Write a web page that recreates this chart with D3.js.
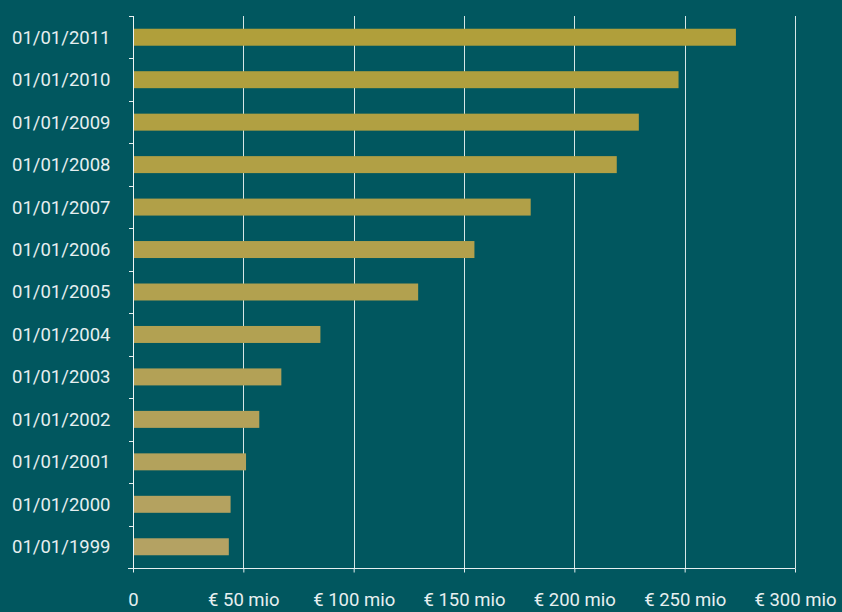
<!DOCTYPE html>
<html lang="en">
	<head>
		<meta charset="utf-8">
		<title>Value by year</title>
		<script type="text/javascript" src="https://cdn.jsdelivr.net/npm/d3@7"></script>
		<style type="text/css">
		html, body {
			margin: 0;
			padding: 0;
			background-color: #01575f;
		}
		text {
			font-family: Roboto, sans-serif;
			font-size: 18.5px;
			fill: #e6eff0;
		}
		</style>
	</head>
	<body>
		<script type="text/javascript">

			//Dates shown on the left, top to bottom
			var dates = ["01/01/2011", "01/01/2010", "01/01/2009", "01/01/2008", "01/01/2007",
				"01/01/2006", "01/01/2005", "01/01/2004", "01/01/2003", "01/01/2002",
				"01/01/2001", "01/01/2000", "01/01/1999"];

			//Values in million euro
			var values = [273, 247, 229, 219, 180, 154.5, 129, 84.7, 67, 57, 51, 44, 43.2];

			//Tick values and labels for the x-axis
			var xTicks = [0, 50, 100, 150, 200, 250, 300];
			var xTickLabels = ["0", "€ 50 mio", "€ 100 mio", "€ 150 mio", "€ 200 mio", "€ 250 mio", "€ 300 mio"];

			var w = 842;
			var h = 612;

			//plot area edges
			var padL = 133;
			var padR = 795;
			var padT = 16;
			var padB = 568;

			var dataset = dates.map(function(d, i){
				return {date: d, value: values[i], idx: i};
			});

			var xScale = d3.scaleLinear()
							.domain([0, 300])
							.range([padL, padR]);

			var yScale = d3.scaleBand()
							.domain(dates)
							.range([padT, padB])
							.padding(0);

			//bars get a bit paler towards the bottom
			var colorScale = d3.scaleLinear()
							.domain([0, dates.length - 1])
							.range(["#b09f3b", "#b4a263"]);

			var svg = d3.select("body")
						.append("svg")
						.attr("width", w)
						.attr("height", h)
						.style("display", "block");

			//Gridlines
			svg.selectAll("line.grid")
				.data(xTicks.slice(1))
				.enter()
				.append("line")
				.attr("class", "grid")
				.attr("x1", function(d){ return Math.round(xScale(d)) + 0.5; })
				.attr("x2", function(d){ return Math.round(xScale(d)) + 0.5; })
				.attr("y1", padT)
				.attr("y2", padB)
				.attr("stroke", "#d6e6e6")
				.attr("stroke-width", 1);

			//Bars
			var barH = yScale.bandwidth() * 0.4;
			svg.selectAll("rect")
				.data(dataset)
				.enter()
				.append("rect")
				.attr("x", xScale(0) + 0.5)
				.attr("y", function(d){ return yScale(d.date) + (yScale.bandwidth() - barH) / 2; })
				.attr("width", function(d){ return xScale(d.value) - xScale(0); })
				.attr("height", barH)
				.attr("fill", function(d){ return colorScale(d.idx); });

			//Y-axis
			var yAxis = d3.axisLeft(yScale).tickSize(0).tickPadding(23);
			var gy = svg.append("g")
				.attr("transform", "translate(" + (padL + 0.5) + ",0)")
				.call(yAxis);
			gy.select(".domain").remove();
			gy.selectAll("text")
				.attr("dy", "0.35em")
				.style("font-size", "18.5px")
				.style("font-family", "Roboto, sans-serif")
				.attr("fill", "#e6eff0");

			//tick marks on the band edges
			var edges = dates.map(function(d){ return yScale(d); }).concat([padB]);
			svg.selectAll("line.ytick")
				.data(edges)
				.enter()
				.append("line")
				.attr("class", "ytick")
				.attr("x1", padL - 4)
				.attr("x2", padL)
				.attr("y1", function(d){ return Math.round(d) + 0.5; })
				.attr("y2", function(d){ return Math.round(d) + 0.5; })
				.attr("stroke", "#e6eff0");

			svg.append("line")
				.attr("x1", padL + 0.5)
				.attr("x2", padL + 0.5)
				.attr("y1", padT)
				.attr("y2", padB)
				.attr("stroke", "#eef5f5");

			//X-axis
			var xAxis = d3.axisBottom(xScale)
				.tickValues(xTicks)
				.tickSize(4)
				.tickPadding(20)
				.tickFormat(function(d, i){ return xTickLabels[i]; });
			var gx = svg.append("g")
				.attr("transform", "translate(0," + (padB + 0.5) + ")")
				.call(xAxis);
			gx.select(".domain").remove();
			gx.selectAll(".tick line").attr("stroke", "#e6eff0");
			gx.selectAll("text")
				.style("font-size", "18.5px")
				.style("font-family", "Roboto, sans-serif")
				.attr("fill", "#e6eff0");

			svg.append("line")
				.attr("x1", padL - 5)
				.attr("x2", padR + 0.5)
				.attr("y1", padB + 0.5)
				.attr("y2", padB + 0.5)
				.attr("stroke", "#e6eff0");

		</script>
	</body>
</html>
